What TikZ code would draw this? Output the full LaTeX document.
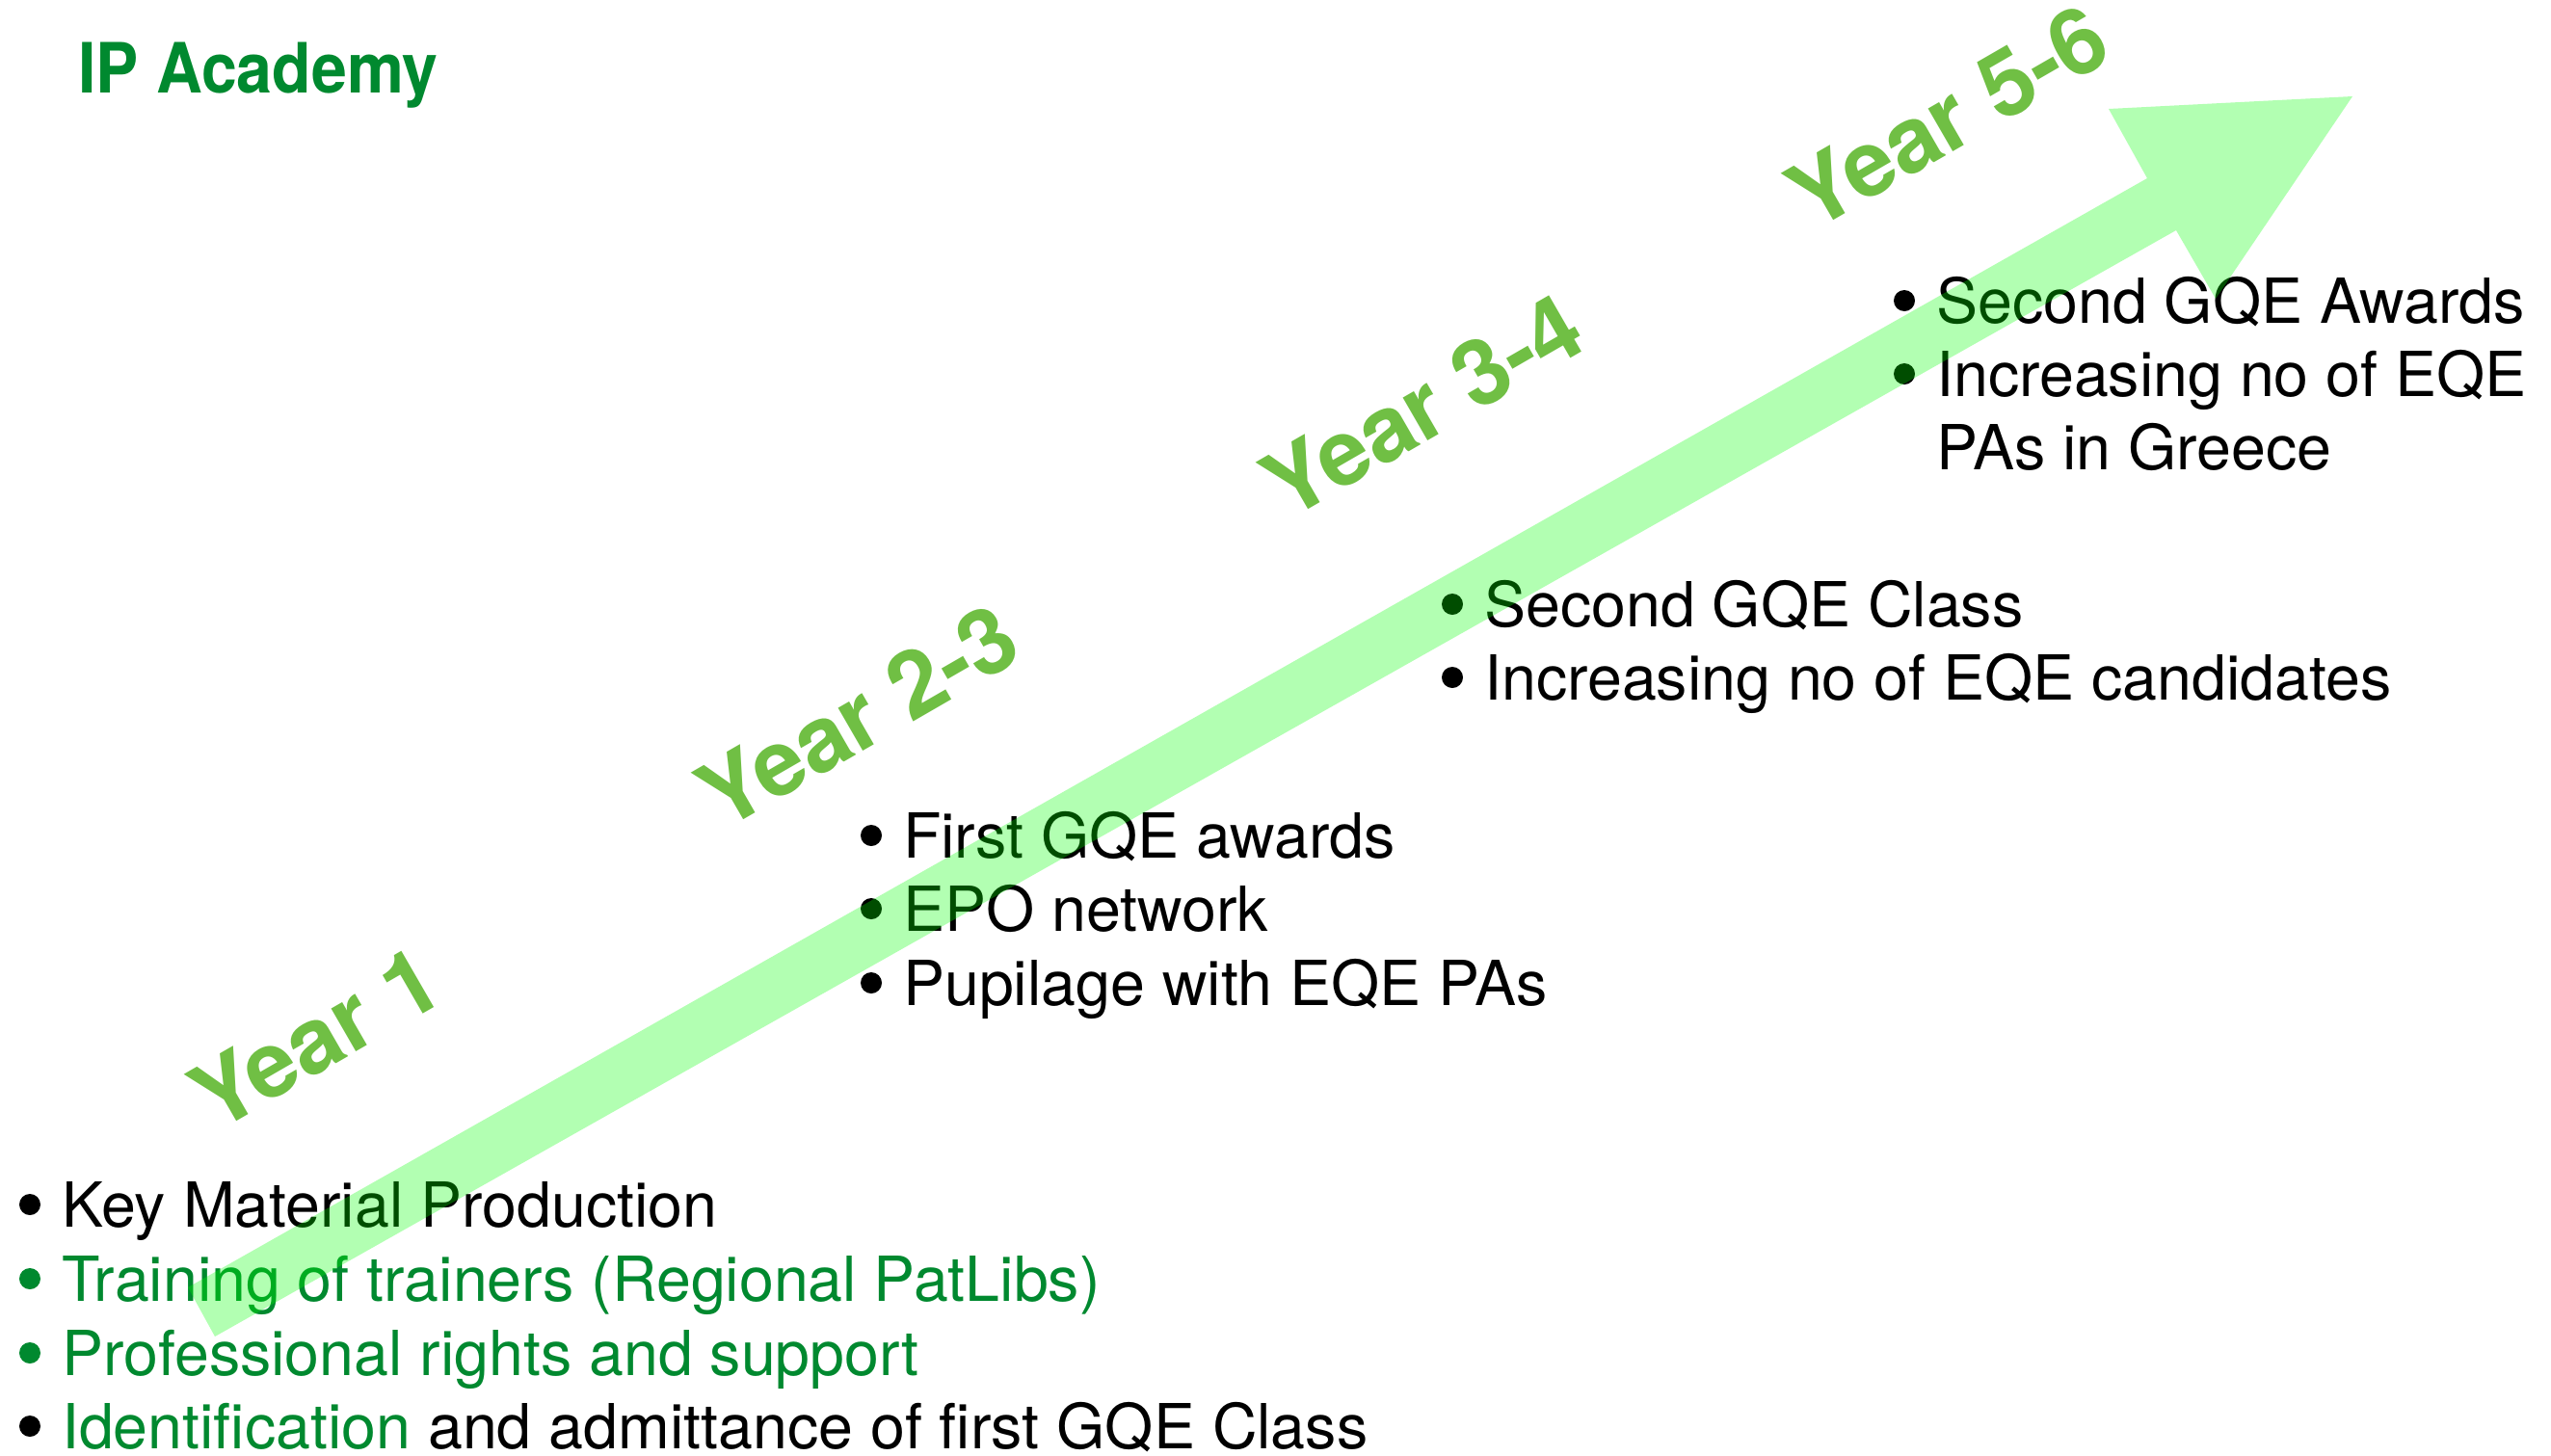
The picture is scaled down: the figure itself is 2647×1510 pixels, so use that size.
\documentclass[tikz,border=0pt]{standalone}
\usepackage{fontspec}
\setmainfont{TeX Gyre Heros}
\definecolor{ipgreen}{RGB}{0,137,47}
\definecolor{yeargreen}{RGB}{112,191,68}
\definecolor{arrowgreen}{RGB}{0,255,0}
\begin{document}
\begin{tikzpicture}[x=1pt,y=-1pt,
  item/.style={anchor=base west, inner sep=0pt, font=\fontsize{64.5}{77}\selectfont},
  bul/.style={circle, fill, inner sep=0pt, minimum size=22pt},
  yearlbl/.style={rotate=30, inner sep=0pt, text=yeargreen, font=\fontsize{95}{105}\selectfont\bfseries},
  bigarrow/.style={fill=arrowgreen, fill opacity=0.3}
]
\fill[white] (0,0) rectangle (2647,1510);
\useasboundingbox (0,0) rectangle (2647,1510);

% title
\node[anchor=base west, inner sep=0pt, text=ipgreen, font=\fontsize{72}{84}\selectfont\bfseries] (title) at (81,96) {\scalebox{0.92}[1]{IP Academy}};

% year labels
\node[yearlbl] (y1) at (327,1077) {Year 1};
\node[yearlbl] (y23) at (890,743) {Year 2-3};
\node[yearlbl] (y34) at (1476,421) {Year 3-4};
\node[yearlbl] (y56) at (2021,121) {Year 5-6};

% Year 1 list
\node[bul] (b11) at (31,1250) {};
\node[bul, ipgreen] (b12) at (31,1327) {};
\node[bul, ipgreen] (b13) at (31,1404) {};
\node[bul] (b14) at (31,1480) {};
\node[item] (k1) at (64,1273) {Key Material Production};
\node[item, text=ipgreen] (k2) at (64,1350) {Training of trainers (Regional PatLibs)};
\node[item, text=ipgreen] (k3) at (64,1427) {Professional rights and support};
\node[item] (k4) at (64,1503) {\textcolor{ipgreen}{Identification} and admittance of first GQE Class};

% Year 2-3 list
\node[bul] (b21) at (904,867) {};
\node[bul] (b22) at (904,943) {};
\node[bul] (b23) at (904,1020) {};
\node[item] (f1) at (937,890) {First GQE awards};
\node[item] (f2) at (937,966) {EPO network};
\node[item] (f3) at (937,1043) {Pupilage with EQE PAs};

% Year 3-4 list
\node[bul] (b31) at (1507,627) {};
\node[bul] (b32) at (1507,703) {};
\node[item] (s1) at (1540,650) {Second GQE Class};
\node[item] (s2) at (1540,726) {Increasing no of EQE candidates};

% Year 5-6 list
\node[bul] (b41) at (1976,312) {};
\node[bul] (b42) at (1976,388) {};
\node[item] (a1) at (2009,335) {Second GQE Awards};
\node[item] (a2) at (2009,411) {Increasing no of EQE};
\node[item] (a3) at (2009,487) {PAs in Greece};

% big arrow (drawn over the text, translucent)
\coordinate (t1) at (195,1336);
\coordinate (t2) at (223,1387);
\coordinate (s2b) at (2258,239);
\coordinate (h2) at (2299,310);
\coordinate (tip) at (2441,100);
\coordinate (h1) at (2188,113);
\coordinate (s1b) at (2228,185);
\fill[bigarrow] (t1) -- (t2) -- (s2b) -- (h2) -- (tip) -- (h1) -- (s1b) -- cycle;
\end{tikzpicture}
\end{document}
